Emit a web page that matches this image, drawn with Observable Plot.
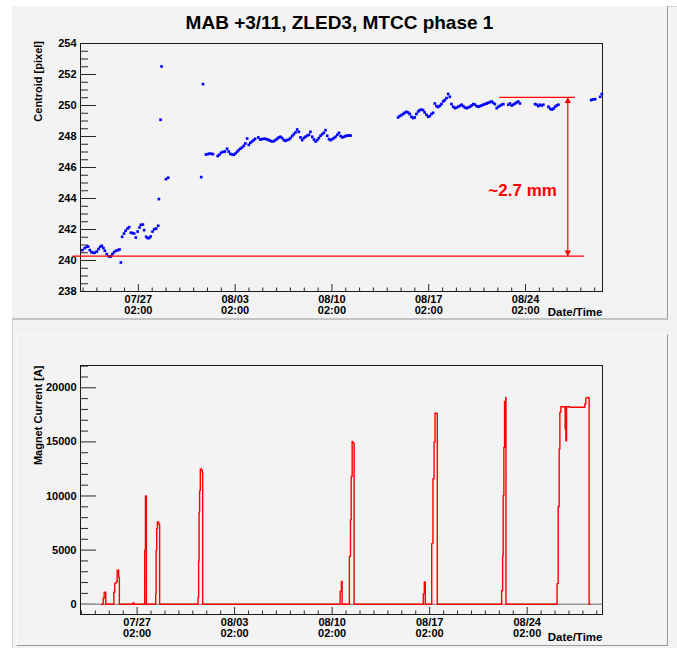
<!DOCTYPE html>
<html>
<head>
<meta charset="utf-8">
<script src="https://cdn.jsdelivr.net/npm/d3@7"></script>
<script src="https://cdn.jsdelivr.net/npm/@observablehq/plot@0.6"></script>
<style>
  body { margin: 0; background: #ffffff; font-family: "Liberation Sans", Arial, Helvetica, sans-serif; }
  #page { position: relative; width: 677px; height: 648px; overflow: hidden; background: #ffffff; }
  .canvas { position: absolute; left: 12px; top: 6px; width: 665px; height: 642px; background: #f3f3f3; border-left: 1px solid #d4d4d4; border-top: 1px solid #d4d4d4; }
  .pad { position: absolute; background: #f3f3f3; }
  #padTop { left: 12px; top: 6px; width: 655px; height: 312px; border-right: 1px solid #9a9a9a; border-bottom: 2px solid #c4c4c4; }
  #padBot { left: 16px; top: 334px; width: 650px; height: 310px; border-left: 1px solid #fbfbfb; border-top: 1px solid #fbfbfb; border-right: 1px solid #9a9a9a; border-bottom: 1px solid #9a9a9a; }
  .plotbox { position: absolute; left: 0; }
</style>
</head>
<body>
<div id="page">
  <div class="canvas"></div>
  <div class="pad" id="padTop"></div>
  <div class="pad" id="padBot"></div>
  <div class="plotbox" id="top" style="top:0px"></div>
  <div class="plotbox" id="bot" style="top:330px"></div>
</div>
<script>
// Time is given in days since 2006-07-01 00:00 UTC.
const topDay = [
  22.04,22.21,22.35,22.45,22.57,22.69,22.81,22.93,23.08,23.20,23.32,23.44,23.56,23.66,23.80,23.97,
  24.09,24.21,24.33,24.47,24.62,24.72,24.82,24.91,25.05,25.16,25.30,25.42,25.54,25.66,25.78,25.90,
  26.03,26.17,26.26,26.41,26.50,26.65,26.75,26.87,26.97,27.11,27.23,27.37,27.52,27.57,27.69,27.76,
  28.08,28.24,30.63,30.76,
  30.97,31.10,31.24,31.39,31.48,31.82,31.94,32.06,32.21,32.35,32.50,32.62,32.74,32.86,32.98,33.10,
  33.22,33.34,33.46,33.58,33.71,33.82,33.95,34.07,34.18,34.31,34.43,34.53,34.76,34.89,35.01,35.16,
  35.27,35.40,35.52,35.63,35.76,35.88,36.00,36.12,36.24,36.36,36.48,36.61,36.72,36.84,36.97,37.08,
  37.21,37.33,37.45,37.57,37.69,37.81,37.93,38.05,38.17,38.29,38.42,38.53,38.66,38.78,38.90,39.02,
  39.14,39.26,39.38,39.50,39.62,39.74,39.87,39.98,40.11,40.23,40.34,40.47,40.59,40.71,40.83,40.95,
  41.07,41.19,41.32,41.43,
  44.87,44.98,45.11,45.23,45.34,45.47,45.59,45.71,45.83,45.95,46.07,46.19,46.32,46.43,46.55,46.68,
  46.79,46.92,47.04,47.16,47.28,47.40,47.52,47.64,47.76,47.88,48.00,48.13,48.24,48.37,48.49,48.61,
  48.73,48.85,48.98,49.10,49.22,49.34,49.46,49.58,49.70,49.82,49.94,50.07,50.18,50.31,50.43,50.55,
  50.67,50.79,50.91,51.03,51.15,51.27,51.39,51.51,51.63,51.75,51.87,52.00,52.12,52.24,52.36,52.48,
  52.84,52.96,53.08,53.20,53.32,53.44,53.56,53.68,
  54.77,54.89,55.01,55.13,55.25,55.37,55.74,55.86,55.98,56.10,56.22,56.34,56.46,
  58.83,58.95,59.12,59.48,59.60
];
const centroid = [
  240.67,240.80,240.88,240.90,240.67,240.54,240.50,240.50,240.58,240.74,240.88,240.95,240.80,240.63,240.41,240.26,
  240.26,240.41,240.54,240.63,240.67,240.71,239.87,241.53,241.74,241.92,242.06,242.15,241.79,241.77,241.74,241.48,
  241.87,242.13,242.30,242.32,241.96,241.53,241.45,241.45,241.55,241.87,242.02,242.06,242.24,243.96,249.08,252.52,
  245.25,245.34,245.38,251.38,
  246.84,246.86,246.90,246.88,246.86,246.74,246.82,246.95,247.01,247.03,247.21,247.03,246.88,246.84,246.82,246.90,
  247.01,247.12,247.21,247.29,247.40,247.55,247.87,247.46,247.59,247.68,247.77,247.85,247.94,247.81,247.83,247.85,
  247.85,247.81,247.77,247.72,247.68,247.70,247.77,247.85,247.94,247.98,247.90,247.77,247.72,247.77,247.81,247.90,
  248.03,248.15,248.26,248.45,248.30,247.94,247.77,247.90,247.98,248.05,248.11,248.30,247.98,247.81,247.68,247.77,
  247.90,248.05,248.15,248.24,248.41,248.05,247.83,247.77,247.83,247.90,247.98,248.11,248.24,248.03,247.94,247.98,
  248.03,248.06,248.06,248.06,
  249.23,249.32,249.38,249.45,249.53,249.59,249.55,249.45,249.27,249.19,249.23,249.45,249.61,249.70,249.74,249.70,
  249.55,249.40,249.27,249.32,249.45,249.53,250.13,249.96,249.90,249.98,250.09,250.26,250.35,250.48,250.74,250.56,
  250.09,249.92,249.83,249.87,249.92,249.98,250.05,249.96,249.87,249.83,249.87,249.92,250.00,250.09,250.05,249.96,
  249.92,249.96,250.00,250.05,250.09,250.13,250.17,250.22,250.26,250.17,250.09,249.83,249.92,249.98,250.05,250.09,
  250.05,250.13,250.00,250.05,250.13,250.20,250.26,250.13,
  250.09,250.05,249.96,250.05,250.00,250.05,249.92,249.79,249.74,249.79,249.92,250.00,250.05,
  250.35,250.39,250.41,250.56,250.74
];

// Magnet current (step series)
const magnetDay = [
  23.52,23.65,23.72,23.83,
  24.41,24.48,24.58,24.65,24.76,24.81,
  25.80,25.84,
  26.63,26.68,26.75,
  27.42,27.45,27.49,27.54,27.63,27.70,
  30.46,30.50,30.53,30.57,30.62,30.69,30.76,30.79,
  40.66,40.75,40.80,
  41.32,41.40,41.45,41.52,41.57,41.64,41.66,
  46.63,46.70,46.77,
  47.23,47.32,47.40,47.47,47.63,
  52.25,52.32,52.36,52.41,52.46,52.54,52.56,
  56.23,56.31,56.38,56.43,56.50,56.81,56.84,56.86,56.91,57.14,58.22,58.29,58.38,58.53,58.60
];
const magnetCurrent = [
  0,550,1100,0,
  1100,1950,2050,3150,2500,0,
  150,0,
  5000,10000,0,
  1000,5000,7000,7600,7400,0,
  650,4000,8500,10500,12500,12400,12200,0,
  1200,2100,0,
  4400,7800,11800,15050,14900,14850,0,
  950,2050,0,
  5600,11600,15000,17650,0,
  1250,4450,10050,14500,18750,19100,0,
  1900,9000,14350,17750,18250,16200,18250,15100,18250,18200,18500,19050,19100,0,0
];

// Annotation
const refLowY = 240.28, refLowFrom = 21.32, refLowTo = 58.30;
const refHighY = 250.52, refHighFrom = 52.18, refHighTo = 57.65;
const arrowDay = 57.14;
const annoText = "~2.7 mm", annoDay = 56.35, annoY = 244.17;

// Tick labels
const centroidTicks = [238,240,242,244,246,248,250,252,254];
const currentTicks = [0,5000,10000,15000,20000];
const dateTicks = ["2006-07-27T02:00Z","2006-08-03T02:00Z","2006-08-10T02:00Z","2006-08-17T02:00Z","2006-08-24T02:00Z"];

const T0 = Date.UTC(2006, 6, 1);
const toDate = d => new Date(T0 + d * 864e5);
const majorDates = dateTicks.map(s => new Date(s));
const fmt = d3.utcFormat("%m/%d\n%H:%M");

function minorDays(dom) {
  const out = [];
  for (let i = 15; i < 65; i++) {
    const d = toDate(i + 2/24);
    if (d >= dom[0] && d <= dom[1] && !majorDates.some(m => +m === +d)) out.push(d);
  }
  return out;
}

const font = "'Liberation Sans', Arial, Helvetica, sans-serif";
const dark = "#2a2a2a";

function xAxes(dom) {
  return [
    Plot.axisX({ticks: minorDays(dom), tickSize: -3.5, fill: "none", stroke: dark, label: null}),
    Plot.axisX({ticks: majorDates, tickSize: -7, fill: "none", stroke: dark, label: null}),
    Plot.axisX({ticks: majorDates, tickSize: 0, tickPadding: 3, tickFormat: fmt, lineHeight: 1.05,
      fontSize: 11, fontWeight: "bold", fill: "#000", label: null})
  ];
}

// ---- Top panel ----
const topDom = [toDate(21.9), toDate(59.65)];
const topData = topDay.map((d, i) => ({t: toDate(d), v: centroid[i]}));
const minorC = d3.range(238, 254.01, 0.5).filter(v => !centroidTicks.includes(v));

const topPlot = Plot.plot({
  width: 677, height: 330,
  marginLeft: 80, marginRight: 75, marginTop: 43, marginBottom: 39,
  style: {background: "transparent", fontFamily: font, overflow: "visible"},
  x: {type: "utc", domain: topDom},
  y: {domain: [238, 254]},
  marks: [
    Plot.axisY({ticks: minorC, tickSize: -8, fill: "none", stroke: dark, label: null}),
    Plot.axisY({ticks: centroidTicks, tickSize: -16, fill: "none", stroke: dark, label: null}),
    Plot.axisY({ticks: centroidTicks, tickSize: 0, tickPadding: 4, fontSize: 11, fontWeight: "bold", fill: "#000", label: null}),
    ...xAxes(topDom),
    Plot.frame({stroke: "#1a1a1a", strokeWidth: 1}),
    Plot.dot(topData, {x: "t", y: "v", symbol: "square", r: 1.5, fill: "#0000ff", stroke: "none"}),
    Plot.link([{x1: toDate(refLowFrom), x2: toDate(refLowTo), y: refLowY}], {x1: "x1", x2: "x2", y1: "y", y2: "y", stroke: "#ff0000", strokeWidth: 1.3}),
    Plot.link([{x1: toDate(refHighFrom), x2: toDate(refHighTo), y: refHighY}], {x1: "x1", x2: "x2", y1: "y", y2: "y", stroke: "#ff0000", strokeWidth: 1.3}),
    Plot.link([{x: toDate(arrowDay)}], {x1: "x", x2: "x", y1: () => refLowY, y2: () => refHighY, stroke: "#ff0000", strokeWidth: 1.2}),
    Plot.dot([{x: toDate(arrowDay), y: refHighY}], {x: "x", y: "y", symbol: "triangle", r: 2.4, fill: "#ff0000", stroke: "none", dy: 3.7}),
    Plot.dot([{x: toDate(arrowDay), y: refLowY}], {x: "x", y: "y", symbol: "triangle", r: 2.4, fill: "#ff0000", stroke: "none", rotate: 180, dy: -3.7}),
    Plot.text([annoText], {x: () => toDate(annoDay), y: () => annoY, text: d => d, textAnchor: "end", lineAnchor: "bottom", fill: "#ff0000", fontSize: 17, fontWeight: "bold"}),
    Plot.text(["MAB +3/11, ZLED3, MTCC phase 1"], {frameAnchor: "top", dx: -2, dy: -28, fontSize: 19, fontWeight: "bold", fill: "#000"}),
    Plot.text(["Centroid [pixel]"], {frameAnchor: "top-left", dx: -46, dy: -2.5, rotate: -90, textAnchor: "end", fontSize: 11, fontWeight: "bold", fill: "#000"}),
    Plot.text(["Date/Time"], {frameAnchor: "bottom-right", dy: 24.5, textAnchor: "end", lineAnchor: "bottom", fontSize: 11.5, fontWeight: "bold", fill: "#000"})
  ]
});
document.getElementById("top").appendChild(topPlot);

// ---- Bottom panel ----
const botDom = [toDate(22.02), toDate(59.49)];
const botData = magnetDay.map((d, i) => ({t: toDate(d), v: magnetCurrent[i]}));
const minorA = d3.range(0, 22001, 1000).filter(v => !currentTicks.includes(v));

const botPlot = Plot.plot({
  width: 677, height: 318,
  marginLeft: 80, marginRight: 75, marginTop: 35, marginBottom: 34,
  style: {background: "transparent", fontFamily: font, overflow: "visible"},
  x: {type: "utc", domain: botDom},
  y: {domain: [-952, 22061]},
  marks: [
    Plot.axisY({ticks: minorA, tickSize: -8, fill: "none", stroke: dark, label: null}),
    Plot.axisY({ticks: currentTicks, tickSize: -16, fill: "none", stroke: dark, label: null}),
    Plot.axisY({ticks: currentTicks, tickSize: 0, tickPadding: 4, tickFormat: d => String(d), fontSize: 11, fontWeight: "bold", fill: "#000", label: null}),
    ...xAxes(botDom),
    Plot.ruleY([0], {stroke: "#9a9a9a", strokeWidth: 1.5}),
    Plot.line(botData, {x: "t", y: "v", curve: "step-after", stroke: "#ff0000", strokeWidth: 1.4}),
    Plot.frame({stroke: "#1a1a1a", strokeWidth: 1}),
    Plot.text(["Magnet Current [A]"], {frameAnchor: "top-left", dx: -46, dy: 0, rotate: -90, textAnchor: "end", fontSize: 11, fontWeight: "bold", fill: "#000"}),
    Plot.text(["Date/Time"], {frameAnchor: "bottom-right", dy: 26, textAnchor: "end", lineAnchor: "bottom", fontSize: 11.5, fontWeight: "bold", fill: "#000"})
  ]
});
document.getElementById("bot").appendChild(botPlot);
</script>
</body>
</html>
